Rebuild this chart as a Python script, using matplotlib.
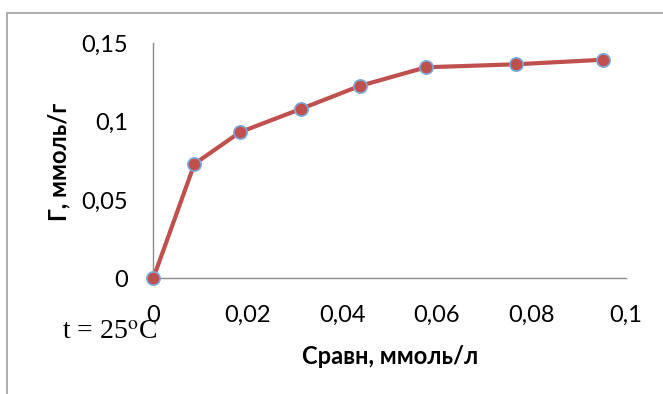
import matplotlib
matplotlib.use('Agg')
import matplotlib.pyplot as plt
from matplotlib.patches import Rectangle

plt.rcParams['font.family'] = ['Lato', 'DejaVu Sans']

# C равн, ммоль/л и Г, ммоль/г (t = 25 C)
c_eq = [0, 0.0087, 0.0183, 0.0312, 0.0437, 0.0577, 0.0767, 0.0951]
gamma = [0, 0.0730, 0.0932, 0.1081, 0.1228, 0.1347, 0.1366, 0.1395]

x_ticks = [0, 0.02, 0.04, 0.06, 0.08, 0.1]
x_labels = ['0', '0,02', '0,04', '0,06', '0,08', '0,1']
y_ticks = [0, 0.05, 0.1, 0.15]
y_labels = ['0', '0,05', '0,1', '0,15']

fig = plt.figure(figsize=(6.63, 3.94), dpi=100)
ax = fig.add_axes([153.3/663, 1-278.3/394, (626-153.3)/663, (278.3-43.3)/394])

# outer chart border (only top and left visible)
fig.patches.append(Rectangle((7/663, -0.2), 1.2, 0.2+(394-13)/394,
                             transform=fig.transFigure, fill=False,
                             edgecolor='#A0A0A0', linewidth=1.2))

ax.plot(c_eq, gamma, color='#C0504D', linewidth=3, marker='o',
        markersize=9.5, markerfacecolor='#C0504D', markeredgecolor='#7BA7DA',
        markeredgewidth=1.2, clip_on=False, zorder=5)

ax.set_xlim(0, 0.1)
ax.set_ylim(0, 0.15)
ax.set_xticks(x_ticks)
ax.set_xticklabels(x_labels)
ax.set_yticks(y_ticks)
ax.set_yticklabels(y_labels)
ax.tick_params(axis='both', length=0, labelsize=17)
ax.tick_params(axis='x', pad=19)
ax.tick_params(axis='y', pad=18)

for s in ['top', 'right']:
    ax.spines[s].set_visible(False)
for s in ['left', 'bottom']:
    ax.spines[s].set_color('#8C8C8C')
    ax.spines[s].set_linewidth(1)

fig.text(390/663, 1-356/394, 'Сравн, ммоль/л', ha='center', va='center',
         fontsize=17, fontweight='bold')
fig.text(59/663, 1-162/394, 'Г, ммоль/г', ha='center', va='center',
         rotation=90, fontsize=17, fontweight='bold')
fig.text(62/663, 1-339/394, 't = 25$^{\\mathrm{o}}$C', ha='left', va='baseline',
         fontsize=20, family='Liberation Serif', math_fontfamily='stix')

fig.savefig('out.png', dpi=100)
